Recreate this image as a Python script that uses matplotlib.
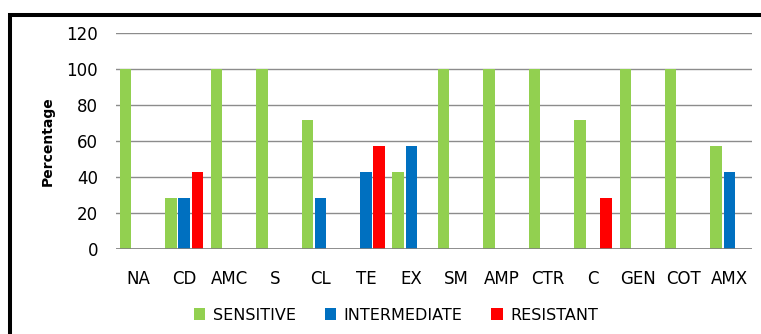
import matplotlib
matplotlib.use("Agg")
import matplotlib.pyplot as plt
from matplotlib.patches import Rectangle, Patch
import numpy as np

plt.rcParams['font.family'] = ['DejaVu Sans']

categories = ["NA", "CD", "AMC", "S", "CL", "TE", "EX", "SM", "AMP", "CTR", "C", "GEN", "COT", "AMX"]
sensitive = [100, 28.57, 100, 100, 71.43, 0, 42.86, 100, 100, 100, 71.43, 100, 100, 57.14]
intermediate = [0, 28.57, 0, 0, 28.57, 42.86, 57.14, 0, 0, 0, 0, 0, 0, 42.86]
resistant = [0, 42.86, 0, 0, 0, 57.14, 0, 0, 0, 0, 28.57, 0, 0, 0]
series_names = ["SENSITIVE", "INTERMEDIATE", "RESISTANT"]
colors = ["#92D050", "#0070C0", "#FF0000"]
yticks = [0, 20, 40, 60, 80, 100, 120]

W, H = 761, 334
fig = plt.figure(figsize=(W / 100, H / 100), dpi=100)
ax = fig.add_axes([116 / W, 85 / H, (752 - 116) / W, (249 - 33) / H])

x = np.arange(len(categories))
offs = [-0.29, 0.0, 0.29]
width = 0.25
for vals, off, c, name in zip([sensitive, intermediate, resistant], offs, colors, series_names):
    ax.bar(x + off, vals, width=width, color=c, label=name, zorder=3)

ax.set_xlim(-0.5, len(categories) - 0.5)
ax.set_ylim(0, 120)
ax.set_yticks(yticks)
ax.set_yticklabels([str(t) for t in yticks], fontsize=12)
ax.set_xticks(x)
ax.set_xticklabels(categories, fontsize=12)
ax.tick_params(axis='both', length=0)
ax.tick_params(axis='y', pad=13)
ax.tick_params(axis='x', pad=15)
for s in ax.spines.values():
    s.set_visible(False)
ax.yaxis.grid(True, color="#8c8c8c", linewidth=1.0, zorder=0)
ax.axhline(0, color="#7f7f7f", linewidth=1.2, zorder=4)
ax.set_ylabel("Percentage", fontsize=10, fontweight='bold', labelpad=8)

handles = [Patch(facecolor=c, edgecolor='none') for c in colors]
ax.legend(handles, series_names, ncol=3, frameon=False, fontsize=11.5,
          loc='center', bbox_to_anchor=((396 - 116) / (752 - 116), (249 - 315) / (249 - 33)),
          handlelength=0.7, handleheight=0.7, handletextpad=0.5, columnspacing=1.8)

fig.patches.append(Rectangle((9.5 / W, -0.2), 1.2, (334 - 14.5) / H + 0.2,
                             transform=fig.transFigure, fill=False,
                             edgecolor='black', linewidth=2.9))

fig.savefig("out.png", dpi=100)
